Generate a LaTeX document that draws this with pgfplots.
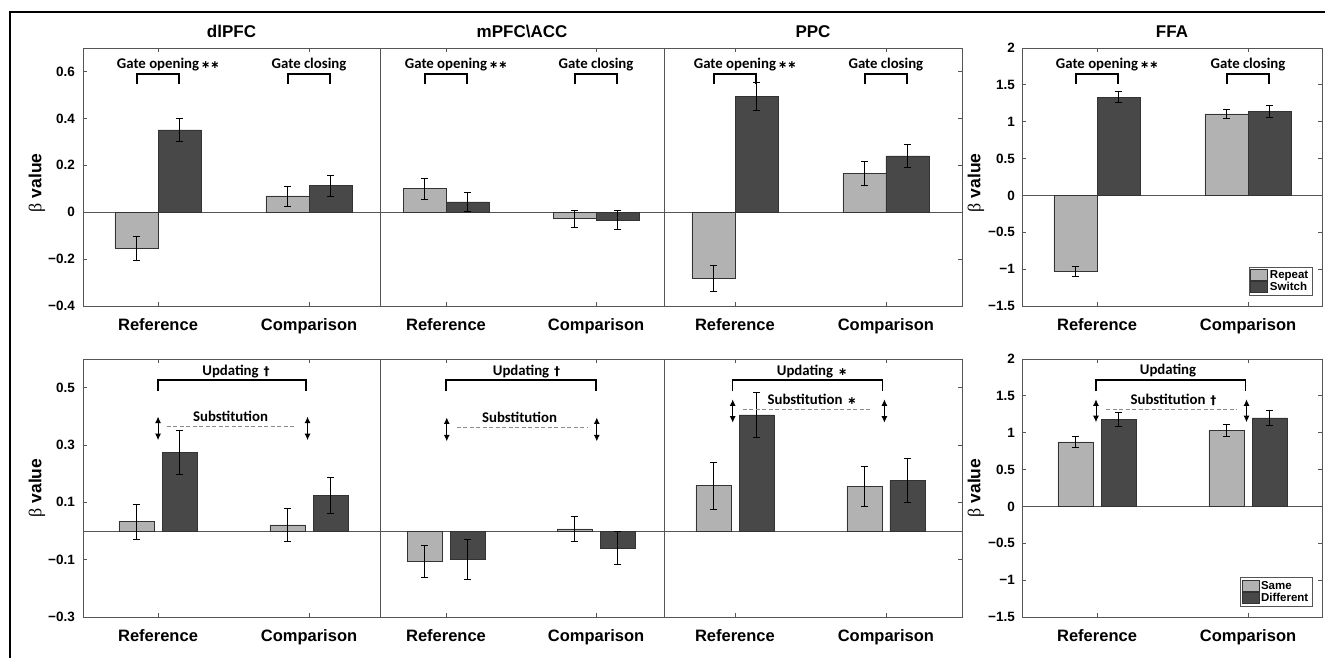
\documentclass[border=0pt]{standalone}
\usepackage{fontspec}
\setmainfont{Liberation Sans}
\newfontfamily\carlito{Carlito}
\newfontfamily\dejavu{DejaVu Sans}
\newfontfamily\lserif{Liberation Serif}
\usepackage{pgfplots}
\pgfplotsset{compat=1.18}
\usetikzlibrary{arrows.meta}
\definecolor{lightbar}{RGB}{178,178,178}
\definecolor{darkbar}{RGB}{72,72,72}
\definecolor{axcol}{RGB}{85,85,85}
\definecolor{dashcol}{RGB}{140,140,140}
\newcommand{\titlefont}{\fontsize{17}{20}\selectfont\bfseries}
\newcommand{\xtfont}{\fontsize{16.5}{19}\selectfont\bfseries}
\newcommand{\ylfont}{\fontsize{17.5}{20}\selectfont\bfseries}
\newcommand{\ytfont}{\fontsize{13.5}{16}\selectfont\bfseries}
\newcommand{\annfont}{\fontsize{14.8}{17}\selectfont\carlito\bfseries}
\newcommand{\legfont}{\fontsize{11.5}{12.5}\selectfont\bfseries}
\newcommand{\stars}{\hspace{2pt}{\dejavu\bfseries\fontsize{11}{12}\selectfont ∗∗}}
\newcommand{\onestar}{\hspace{5pt}{\dejavu\bfseries\fontsize{11}{12}\selectfont ∗}}
\newcommand{\dagsym}{\hspace{5pt}{\dejavu\bfseries\fontsize{12}{12}\selectfont †}}
\newcommand{\ylab}{{\lserif\mdseries\fontsize{18}{20}\selectfont β} value}
\tikzset{
  brk/.style={black, line width=1.5pt},
  ann/.style={font=\annfont, anchor=base, inner sep=0pt},
  dsh/.style={dashcol, line width=1pt, dash pattern=on 4pt off 2.5pt},
  dar/.style={{Latex[width=6pt,length=6.5pt]}-{Latex[width=6pt,length=6.5pt]}, line width=0.9pt, black},
}
\pgfplotsset{
  panel/.style={
    scale only axis, anchor=south west, height=258pt, clip=false,
    axis line style={axcol, line width=0.8pt},
    tick style={axcol, line width=0.8pt},
    tick align=inside, major tick length=4pt,
    xtick={1,2}, xticklabels={Reference,Comparison},
    xticklabel style={font=\xtfont, anchor=base, inner sep=0pt, yshift=-24.7pt},
    yticklabel style={font=\ytfont, anchor=east, inner sep=0pt, xshift=-8pt},
    title style={font=\titlefont, at={(0.5,1)}, anchor=base, inner sep=0pt, yshift=4pt},
    ylabel style={font=\ylfont, at={(0,0.5)}, anchor=center, inner sep=0pt, yshift=46pt},
  },
  lbar/.style={ybar, bar shift=0pt, fill=lightbar, draw=black!80, line width=0.6pt,
    error bars/y dir=both, error bars/y explicit,
    error bars/error bar style={black, line width=0.8pt},
    error bars/error mark options={black, line width=0.8pt, mark size=3.5pt, rotate=90}},
  dbar/.style={lbar, fill=darkbar},
  legimg/.style={legend image code/.code={\draw[##1, draw=black!80, line width=0.5pt] (0pt,-5.5pt) rectangle (17pt,5.5pt);}},
}
\begin{document}
\begin{tikzpicture}
\path[use as bounding box] (0pt,0pt) rectangle (1325pt,658pt);
\draw[line width=2pt] (10pt,-5pt) -- (10pt,646pt) -- (1330pt,646pt);

% ===================== TOP ROW =====================
% dlPFC top
\begin{axis}[panel, at={(83pt,352pt)}, width=297pt, bar width=0.285,
  xmin=0.503, xmax=2.470, ymin=-0.4, ymax=0.7,
  ytick={-0.4,-0.2,0,0.2,0.4,0.6}, yticklabels={−0.4,−0.2,0,0.2,0.4,0.6}, ytick pos=left,
  title={dlPFC}, ylabel={\ylab}, ylabel style={at={(0,0.477)}}]
\draw[axcol, line width=0.8pt] (axis cs:0.503,0) -- (axis cs:2.470,0);
\addplot[lbar] coordinates {(0.857,-0.154) +- (0,0.05) (1.857,0.069) +- (0,0.043)};
\addplot[dbar] coordinates {(1.143,0.351) +- (0,0.05) (2.143,0.113) +- (0,0.045)};
\draw[brk] (axis cs:0.86,0.546) -- (axis cs:0.86,0.589) -- (axis cs:1.14,0.589) -- (axis cs:1.14,0.546);
\node[ann] at (axis cs:1,0.614) {Gate opening\rlap{\stars}};
\draw[brk] (axis cs:1.86,0.546) -- (axis cs:1.86,0.589) -- (axis cs:2.14,0.589) -- (axis cs:2.14,0.546);
\node[ann] at (axis cs:2,0.614) {Gate closing};
\end{axis}

% mPFC\ACC top
\begin{axis}[panel, at={(380pt,352pt)}, width=284pt, bar width=0.285,
  xmin=0.56, xmax=2.453, ymin=-0.4, ymax=0.7, ytick=\empty,
  title={mPFC\textbackslash ACC}]
\draw[axcol, line width=0.8pt] (axis cs:0.56,0) -- (axis cs:2.453,0);
\addplot[lbar] coordinates {(0.857,0.100) +- (0,0.045) (1.857,-0.028) +- (0,0.035)};
\addplot[dbar] coordinates {(1.143,0.044) +- (0,0.041) (2.143,-0.033) +- (0,0.039)};
\draw[brk] (axis cs:0.86,0.546) -- (axis cs:0.86,0.589) -- (axis cs:1.14,0.589) -- (axis cs:1.14,0.546);
\node[ann] at (axis cs:1,0.614) {Gate opening\rlap{\stars}};
\draw[brk] (axis cs:1.86,0.546) -- (axis cs:1.86,0.589) -- (axis cs:2.14,0.589) -- (axis cs:2.14,0.546);
\node[ann] at (axis cs:2,0.614) {Gate closing};
\end{axis}

% PPC top
\begin{axis}[panel, at={(664pt,352pt)}, width=298pt, bar width=0.285,
  xmin=0.530, xmax=2.504, ymin=-0.4, ymax=0.7,
  ytick={-0.4,-0.2,0,0.2,0.4,0.6}, yticklabels={,,,,,}, ytick pos=right,
  title={PPC}]
\draw[axcol, line width=0.8pt] (axis cs:0.530,0) -- (axis cs:2.504,0);
\addplot[lbar] coordinates {(0.857,-0.282) +- (0,0.057) (1.857,0.166) +- (0,0.05)};
\addplot[dbar] coordinates {(1.143,0.492) +- (0,0.06) (2.143,0.240) +- (0,0.048)};
\draw[brk] (axis cs:0.86,0.546) -- (axis cs:0.86,0.589) -- (axis cs:1.14,0.589) -- (axis cs:1.14,0.546);
\node[ann] at (axis cs:1,0.614) {Gate opening\rlap{\stars}};
\draw[brk] (axis cs:1.86,0.546) -- (axis cs:1.86,0.589) -- (axis cs:2.14,0.589) -- (axis cs:2.14,0.546);
\node[ann] at (axis cs:2,0.614) {Gate closing};
\end{axis}

% FFA top
\begin{axis}[panel, at={(1022pt,352pt)}, width=300pt, bar width=0.285,
  xmin=0.503, xmax=2.490, ymin=-1.5, ymax=2,
  ytick={-1.5,-1,-0.5,0,0.5,1,1.5,2}, yticklabels={−1.5,−1,−0.5,0,0.5,1,1.5,2},
  yticklabel style={xshift=1pt},
  title={FFA}, ylabel={\ylab}, ylabel style={at={(0,0.477)}},
  legimg,
  legend style={at={(0.967,0.039)}, anchor=south east, draw=axcol, line width=0.6pt,
    font=\legfont, inner sep=1.5pt, row sep=-1.5pt, column sep=0pt, cells={anchor=west}},
  legend cell align=left]
\draw[axcol, line width=0.8pt] (axis cs:0.503,0) -- (axis cs:2.490,0);
\addplot[lbar] coordinates {(0.857,-1.027) +- (0,0.065) (1.857,1.107) +- (0,0.065)};
\addplot[dbar] coordinates {(1.143,1.334) +- (0,0.072) (2.143,1.140) +- (0,0.075)};
\legend{Repeat,Switch}
\draw[brk] (axis cs:0.86,1.51) -- (axis cs:0.86,1.647) -- (axis cs:1.14,1.647) -- (axis cs:1.14,1.51);
\node[ann] at (axis cs:1,1.727) {Gate opening\rlap{\stars}};
\draw[brk] (axis cs:1.86,1.51) -- (axis cs:1.86,1.647) -- (axis cs:2.14,1.647) -- (axis cs:2.14,1.51);
\node[ann] at (axis cs:2,1.727) {Gate closing};
\end{axis}

% ===================== BOTTOM ROW =====================
% dlPFC bottom
\begin{axis}[panel, at={(83pt,41pt)}, width=297pt, bar width=0.232,
  xmin=0.503, xmax=2.470, ymin=-0.3, ymax=0.6,
  ytick={-0.3,-0.1,0.1,0.3,0.5}, yticklabels={−0.3,−0.1,0.1,0.3,0.5}, ytick pos=left,
  ylabel={\ylab}]
\draw[axcol, line width=0.8pt] (axis cs:0.503,0) -- (axis cs:2.470,0);
\addplot[lbar] coordinates {(0.857,0.0325) +- (0,0.062) (1.857,0.021) +- (0,0.058)};
\addplot[dbar] coordinates {(1.143,0.274) +- (0,0.077) (2.143,0.124) +- (0,0.063)};
\draw[brk] (axis cs:1.0,0.487) -- (axis cs:1.0,0.526) -- (axis cs:1.98,0.526) -- (axis cs:1.98,0.487);
\node[ann] at (axis cs:1.48,0.544) {Updating\rlap{\dagsym}};
\node[ann] at (axis cs:1.48,0.381) {Substitution};
\draw[dsh] (axis cs:1.057,0.364) -- (axis cs:1.917,0.364);
\draw[dar] (axis cs:1.0,0.399) -- (axis cs:1.0,0.317);
\draw[dar] (axis cs:1.99,0.399) -- (axis cs:1.99,0.317);
\end{axis}

% mPFC\ACC bottom
\begin{axis}[panel, at={(380pt,41pt)}, width=284pt, bar width=0.232,
  xmin=0.56, xmax=2.453, ymin=-0.3, ymax=0.6, ytick=\empty]
\draw[axcol, line width=0.8pt] (axis cs:0.56,0) -- (axis cs:2.453,0);
\addplot[lbar] coordinates {(0.857,-0.106) +- (0,0.055) (1.857,0.007) +- (0,0.044)};
\addplot[dbar] coordinates {(1.143,-0.098) +- (0,0.07) (2.143,-0.059) +- (0,0.058)};
\draw[brk] (axis cs:1.0,0.487) -- (axis cs:1.0,0.526) -- (axis cs:2.0,0.526) -- (axis cs:2.0,0.487);
\node[ann] at (axis cs:1.5,0.544) {Updating\rlap{\dagsym}};
\node[ann] at (axis cs:1.49,0.38) {Substitution};
\draw[dsh] (axis cs:1.073,0.360) -- (axis cs:1.94,0.360);
\draw[dar] (axis cs:1.005,0.396) -- (axis cs:1.005,0.313);
\draw[dar] (axis cs:2.005,0.396) -- (axis cs:2.005,0.313);
\end{axis}

% PPC bottom
\begin{axis}[panel, at={(664pt,41pt)}, width=298pt, bar width=0.232,
  xmin=0.530, xmax=2.504, ymin=-0.3, ymax=0.6,
  ytick={-0.3,-0.1,0.1,0.3,0.5}, yticklabels={,,,,}, ytick pos=right]
\draw[axcol, line width=0.8pt] (axis cs:0.530,0) -- (axis cs:2.504,0);
\addplot[lbar] coordinates {(0.857,0.158) +- (0,0.082) (1.857,0.156) +- (0,0.069)};
\addplot[dbar] coordinates {(1.143,0.405) +- (0,0.079) (2.143,0.177) +- (0,0.077)};
\draw[brk] (axis cs:0.985,0.487) -- (axis cs:0.985,0.526) -- (axis cs:1.976,0.526) -- (axis cs:1.976,0.487);
\node[ann] at (axis cs:1.464,0.544) {Updating\rlap{\onestar}};
\node[ann] at (axis cs:1.464,0.443) {Substitution\rlap{\onestar}};
\draw[dsh] (axis cs:1.053,0.425) -- (axis cs:1.914,0.425);
\draw[dar] (axis cs:0.985,0.459) -- (axis cs:0.985,0.378);
\draw[dar] (axis cs:1.99,0.459) -- (axis cs:1.99,0.378);
\end{axis}

% FFA bottom
\begin{axis}[panel, at={(1022pt,41pt)}, width=300pt, bar width=0.232,
  xmin=0.503, xmax=2.490, ymin=-1.5, ymax=2,
  ytick={-1.5,-1,-0.5,0,0.5,1,1.5,2}, yticklabels={−1.5,−1,−0.5,0,0.5,1,1.5,2},
  yticklabel style={xshift=1pt},
  ylabel={\ylab},
  legimg,
  legend style={at={(0.967,0.039)}, anchor=south east, draw=axcol, line width=0.6pt,
    font=\legfont, inner sep=1.5pt, row sep=-1.5pt, column sep=0pt, cells={anchor=west}},
  legend cell align=left]
\draw[axcol, line width=0.8pt] (axis cs:0.503,0) -- (axis cs:2.490,0);
\addplot[lbar] coordinates {(0.857,0.875) +- (0,0.08) (1.857,1.028) +- (0,0.084)};
\addplot[dbar] coordinates {(1.143,1.178) +- (0,0.095) (2.143,1.200) +- (0,0.097)};
\legend{Same,Different}
\draw[brk] (axis cs:0.993,1.565) -- (axis cs:0.993,1.715) -- (axis cs:1.982,1.715) -- (axis cs:1.982,1.565);
\node[ann] at (axis cs:1.47,1.783) {Updating};
\node[ann] at (axis cs:1.47,1.389) {Substitution\rlap{\dagsym}};
\draw[dsh] (axis cs:1.06,1.32) -- (axis cs:1.926,1.32);
\draw[dar] (axis cs:0.993,1.452) -- (axis cs:0.993,1.143);
\draw[dar] (axis cs:1.99,1.452) -- (axis cs:1.99,1.143);
\end{axis}
\end{tikzpicture}
\end{document}
